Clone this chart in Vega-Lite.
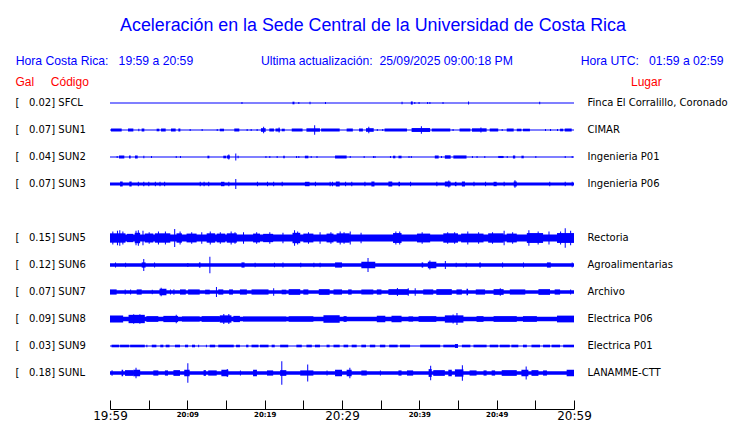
{
  "$schema": "https://vega.github.io/schema/vega-lite/v6.json",
  "width": 464,
  "height": 342,
  "autosize": {"type": "none"},
  "padding": {"left": 110, "top": 67, "right": 166, "bottom": 14},
  "background": "white",
  "config": {"view": {"stroke": null}, "font": "Liberation Sans"},
  "title": {
    "text": "Aceleración en la Sede Central de la Universidad de Costa Rica",
    "subtitle": "Hora Costa Rica:\u00a0\u00a0\u00a019:59 a 20:59\u00a0\u00a0\u00a0\u00a0\u00a0\u00a0\u00a0\u00a0\u00a0\u00a0\u00a0\u00a0\u00a0\u00a0\u00a0\u00a0\u00a0\u00a0\u00a0\u00a0Ultima actualización:\u00a0\u00a025/09/2025 09:00:18 PM\u00a0\u00a0\u00a0\u00a0\u00a0\u00a0\u00a0\u00a0\u00a0\u00a0\u00a0\u00a0\u00a0\u00a0\u00a0\u00a0\u00a0\u00a0\u00a0\u00a0Hora UTC:\u00a0\u00a0\u00a001:59 a 02:59\u00a0\u00a0\u200b",
    "anchor": "middle",
    "frame": "group",
    "dx": 31,
    "offset": -0.5,
    "font": "Liberation Sans",
    "fontSize": 17.85,
    "fontWeight": "normal",
    "color": "#0000ff",
    "subtitleFont": "Liberation Sans",
    "subtitleFontSize": 12.2,
    "subtitleColor": "#0000ff",
    "subtitlePadding": 20.5
  },
  "datasets": {
    "base": [
      {"s": "SFCL", "t0": 0, "t1": 60, "a": 0.04},
      {"s": "SUN1", "t0": 0, "t1": 60, "a": 0.045},
      {"s": "SUN2", "t0": 0, "t1": 60, "a": 0.04},
      {"s": "SUN3", "t0": 0, "t1": 60, "a": 0.115},
      {"s": "SUN5", "t0": 0, "t1": 60, "a": 0.27},
      {"s": "SUN6", "t0": 0, "t1": 60, "a": 0.13},
      {"s": "SUN7", "t0": 0, "t1": 60, "a": 0.13},
      {"s": "SUN8", "t0": 0, "t1": 60, "a": 0.165},
      {"s": "SUN9", "t0": 0, "t1": 60, "a": 0.04},
      {"s": "SUNL", "t0": 0, "t1": 60, "a": 0.13}
    ],
    "bursts": [
      {"s": "SFCL", "t0": 17.0, "t1": 17.13, "a": 0.08},
      {"s": "SFCL", "t0": 23.6, "t1": 23.85, "a": 0.1},
      {"s": "SFCL", "t0": 24.35, "t1": 24.48, "a": 0.08},
      {"s": "SFCL", "t0": 25.8, "t1": 25.93, "a": 0.09},
      {"s": "SFCL", "t0": 27.8, "t1": 27.93, "a": 0.08},
      {"s": "SFCL", "t0": 37.7, "t1": 37.83, "a": 0.09},
      {"s": "SFCL", "t0": 38.9, "t1": 39.15, "a": 0.12},
      {"s": "SFCL", "t0": 39.35, "t1": 39.48, "a": 0.08},
      {"s": "SFCL", "t0": 39.9, "t1": 40.03, "a": 0.08},
      {"s": "SFCL", "t0": 41.0, "t1": 41.13, "a": 0.08},
      {"s": "SFCL", "t0": 41.3, "t1": 41.43, "a": 0.08},
      {"s": "SFCL", "t0": 43.0, "t1": 43.13, "a": 0.08},
      {"s": "SFCL", "t0": 46.3, "t1": 46.43, "a": 0.12},
      {"s": "SFCL", "t0": 55.5, "t1": 55.63, "a": 0.09},

      {"s": "SUN1", "t0": 0.13, "t1": 1.51, "a": 0.115},
      {"s": "SUN1", "t0": 2.33, "t1": 3.02, "a": 0.115},
      {"s": "SUN1", "t0": 3.66, "t1": 3.79, "a": 0.1},
      {"s": "SUN1", "t0": 4.09, "t1": 4.44, "a": 0.115},
      {"s": "SUN1", "t0": 6.03, "t1": 6.38, "a": 0.1},
      {"s": "SUN1", "t0": 6.6, "t1": 7.2, "a": 0.115},
      {"s": "SUN1", "t0": 7.89, "t1": 8.49, "a": 0.115},
      {"s": "SUN1", "t0": 8.84, "t1": 9.1, "a": 0.115},
      {"s": "SUN1", "t0": 10.3, "t1": 10.43, "a": 0.08},
      {"s": "SUN1", "t0": 11.85, "t1": 11.98, "a": 0.08},
      {"s": "SUN1", "t0": 13.8, "t1": 13.93, "a": 0.08},
      {"s": "SUN1", "t0": 14.2, "t1": 14.74, "a": 0.1},
      {"s": "SUN1", "t0": 16.07, "t1": 16.72, "a": 0.115},
      {"s": "SUN1", "t0": 17.67, "t1": 17.8, "a": 0.08},
      {"s": "SUN1", "t0": 18.19, "t1": 18.32, "a": 0.08},
      {"s": "SUN1", "t0": 18.96, "t1": 19.09, "a": 0.08},
      {"s": "SUN1", "t0": 19.52, "t1": 20.13, "a": 0.14},
      {"s": "SUN1", "t0": 19.8, "t1": 19.93, "a": 0.25},
      {"s": "SUN1", "t0": 20.6, "t1": 21.2, "a": 0.115},
      {"s": "SUN1", "t0": 21.4, "t1": 22.0, "a": 0.115},
      {"s": "SUN1", "t0": 21.8, "t1": 21.93, "a": 0.2},
      {"s": "SUN1", "t0": 22.2, "t1": 22.6, "a": 0.1},
      {"s": "SUN1", "t0": 23.5, "t1": 24.9, "a": 0.115},
      {"s": "SUN1", "t0": 25.4, "t1": 27.15, "a": 0.13},
      {"s": "SUN1", "t0": 26.4, "t1": 26.53, "a": 0.36},
      {"s": "SUN1", "t0": 27.3, "t1": 29.7, "a": 0.115},
      {"s": "SUN1", "t0": 30.6, "t1": 31.4, "a": 0.115},
      {"s": "SUN1", "t0": 32.2, "t1": 32.7, "a": 0.115},
      {"s": "SUN1", "t0": 33.1, "t1": 34.1, "a": 0.14},
      {"s": "SUN1", "t0": 33.4, "t1": 33.53, "a": 0.25},
      {"s": "SUN1", "t0": 34.5, "t1": 34.63, "a": 0.08},
      {"s": "SUN1", "t0": 35.2, "t1": 35.33, "a": 0.08},
      {"s": "SUN1", "t0": 35.5, "t1": 38.4, "a": 0.115},
      {"s": "SUN1", "t0": 39.0, "t1": 41.4, "a": 0.15},
      {"s": "SUN1", "t0": 40.2, "t1": 40.33, "a": 0.28},
      {"s": "SUN1", "t0": 41.6, "t1": 44.0, "a": 0.115},
      {"s": "SUN1", "t0": 44.3, "t1": 44.43, "a": 0.08},
      {"s": "SUN1", "t0": 45.2, "t1": 46.6, "a": 0.115},
      {"s": "SUN1", "t0": 46.8, "t1": 48.7, "a": 0.13},
      {"s": "SUN1", "t0": 47.9, "t1": 48.03, "a": 0.2},
      {"s": "SUN1", "t0": 49.1, "t1": 50.2, "a": 0.115},
      {"s": "SUN1", "t0": 50.65, "t1": 50.78, "a": 0.08},
      {"s": "SUN1", "t0": 51.3, "t1": 52.2, "a": 0.115},
      {"s": "SUN1", "t0": 52.6, "t1": 53.2, "a": 0.1},
      {"s": "SUN1", "t0": 53.4, "t1": 54.3, "a": 0.1},
      {"s": "SUN1", "t0": 56.25, "t1": 56.38, "a": 0.08},
      {"s": "SUN1", "t0": 56.9, "t1": 57.03, "a": 0.08},
      {"s": "SUN1", "t0": 57.8, "t1": 57.93, "a": 0.08},
      {"s": "SUN1", "t0": 58.2, "t1": 58.6, "a": 0.1},
      {"s": "SUN1", "t0": 58.8, "t1": 59.7, "a": 0.115},

      {"s": "SUN2", "t0": 0.86, "t1": 0.99, "a": 0.08},
      {"s": "SUN2", "t0": 1.16, "t1": 1.85, "a": 0.115},
      {"s": "SUN2", "t0": 2.46, "t1": 2.67, "a": 0.115},
      {"s": "SUN2", "t0": 3.23, "t1": 3.58, "a": 0.115},
      {"s": "SUN2", "t0": 4.31, "t1": 4.44, "a": 0.1},
      {"s": "SUN2", "t0": 5.3, "t1": 5.43, "a": 0.08},
      {"s": "SUN2", "t0": 8.5, "t1": 8.63, "a": 0.08},
      {"s": "SUN2", "t0": 9.05, "t1": 9.18, "a": 0.08},
      {"s": "SUN2", "t0": 12.6, "t1": 12.85, "a": 0.1},
      {"s": "SUN2", "t0": 14.65, "t1": 15.0, "a": 0.1},
      {"s": "SUN2", "t0": 15.1, "t1": 15.5, "a": 0.12},
      {"s": "SUN2", "t0": 15.3, "t1": 15.43, "a": 0.2},
      {"s": "SUN2", "t0": 16.2, "t1": 16.33, "a": 0.26},
      {"s": "SUN2", "t0": 16.5, "t1": 16.63, "a": 0.1},
      {"s": "SUN2", "t0": 20.1, "t1": 20.23, "a": 0.08},
      {"s": "SUN2", "t0": 20.6, "t1": 20.73, "a": 0.08},
      {"s": "SUN2", "t0": 21.55, "t1": 21.68, "a": 0.08},
      {"s": "SUN2", "t0": 22.4, "t1": 22.6, "a": 0.1},
      {"s": "SUN2", "t0": 24.05, "t1": 24.18, "a": 0.08},
      {"s": "SUN2", "t0": 24.35, "t1": 24.48, "a": 0.08},
      {"s": "SUN2", "t0": 25.2, "t1": 25.65, "a": 0.1},
      {"s": "SUN2", "t0": 25.95, "t1": 26.08, "a": 0.08},
      {"s": "SUN2", "t0": 26.7, "t1": 26.83, "a": 0.08},
      {"s": "SUN2", "t0": 29.1, "t1": 30.6, "a": 0.115},
      {"s": "SUN2", "t0": 31.0, "t1": 31.13, "a": 0.08},
      {"s": "SUN2", "t0": 32.8, "t1": 32.93, "a": 0.08},
      {"s": "SUN2", "t0": 34.0, "t1": 34.13, "a": 0.08},
      {"s": "SUN2", "t0": 34.2, "t1": 34.33, "a": 0.08},
      {"s": "SUN2", "t0": 36.2, "t1": 36.33, "a": 0.08},
      {"s": "SUN2", "t0": 36.6, "t1": 36.9, "a": 0.1},
      {"s": "SUN2", "t0": 37.3, "t1": 37.7, "a": 0.1},
      {"s": "SUN2", "t0": 38.6, "t1": 38.73, "a": 0.08},
      {"s": "SUN2", "t0": 38.9, "t1": 39.03, "a": 0.08},
      {"s": "SUN2", "t0": 42.0, "t1": 42.5, "a": 0.115},
      {"s": "SUN2", "t0": 42.8, "t1": 42.93, "a": 0.08},
      {"s": "SUN2", "t0": 43.3, "t1": 44.05, "a": 0.13},
      {"s": "SUN2", "t0": 44.4, "t1": 46.1, "a": 0.12},
      {"s": "SUN2", "t0": 46.8, "t1": 46.93, "a": 0.08},
      {"s": "SUN2", "t0": 47.4, "t1": 47.53, "a": 0.08},
      {"s": "SUN2", "t0": 48.4, "t1": 48.53, "a": 0.08},
      {"s": "SUN2", "t0": 50.2, "t1": 50.9, "a": 0.08},
      {"s": "SUN2", "t0": 51.3, "t1": 51.43, "a": 0.08},
      {"s": "SUN2", "t0": 52.1, "t1": 52.4, "a": 0.115},
      {"s": "SUN2", "t0": 53.2, "t1": 53.5, "a": 0.1},
      {"s": "SUN2", "t0": 55.0, "t1": 55.13, "a": 0.08},
      {"s": "SUN2", "t0": 58.8, "t1": 58.93, "a": 0.08},
      {"s": "SUN2", "t0": 59.7, "t1": 59.83, "a": 0.08},

      {"s": "SUN3", "t0": 1.3, "t1": 1.64, "a": 0.19},
      {"s": "SUN3", "t0": 2.5, "t1": 2.8, "a": 0.19},
      {"s": "SUN3", "t0": 3.6, "t1": 3.73, "a": 0.17},
      {"s": "SUN3", "t0": 4.3, "t1": 4.44, "a": 0.17},
      {"s": "SUN3", "t0": 4.95, "t1": 5.08, "a": 0.17},
      {"s": "SUN3", "t0": 5.8, "t1": 5.93, "a": 0.17},
      {"s": "SUN3", "t0": 6.4, "t1": 6.53, "a": 0.17},
      {"s": "SUN3", "t0": 7.0, "t1": 7.13, "a": 0.17},
      {"s": "SUN3", "t0": 11.6, "t1": 11.73, "a": 0.17},
      {"s": "SUN3", "t0": 12.1, "t1": 12.23, "a": 0.17},
      {"s": "SUN3", "t0": 12.7, "t1": 12.83, "a": 0.17},
      {"s": "SUN3", "t0": 14.35, "t1": 14.8, "a": 0.17},
      {"s": "SUN3", "t0": 15.3, "t1": 15.43, "a": 0.17},
      {"s": "SUN3", "t0": 16.2, "t1": 16.33, "a": 0.38},
      {"s": "SUN3", "t0": 19.0, "t1": 19.13, "a": 0.17},
      {"s": "SUN3", "t0": 20.3, "t1": 20.43, "a": 0.17},
      {"s": "SUN3", "t0": 21.1, "t1": 21.23, "a": 0.17},
      {"s": "SUN3", "t0": 22.2, "t1": 22.33, "a": 0.17},
      {"s": "SUN3", "t0": 25.2, "t1": 25.8, "a": 0.17},
      {"s": "SUN3", "t0": 26.5, "t1": 26.63, "a": 0.17},
      {"s": "SUN3", "t0": 28.4, "t1": 28.53, "a": 0.17},
      {"s": "SUN3", "t0": 28.7, "t1": 28.83, "a": 0.17},
      {"s": "SUN3", "t0": 29.2, "t1": 29.7, "a": 0.19},
      {"s": "SUN3", "t0": 30.4, "t1": 30.53, "a": 0.17},
      {"s": "SUN3", "t0": 31.2, "t1": 31.33, "a": 0.17},
      {"s": "SUN3", "t0": 32.9, "t1": 33.03, "a": 0.17},
      {"s": "SUN3", "t0": 33.8, "t1": 34.2, "a": 0.19},
      {"s": "SUN3", "t0": 36.0, "t1": 36.5, "a": 0.19},
      {"s": "SUN3", "t0": 37.3, "t1": 37.5, "a": 0.17},
      {"s": "SUN3", "t0": 38.8, "t1": 38.93, "a": 0.17},
      {"s": "SUN3", "t0": 42.2, "t1": 42.33, "a": 0.17},
      {"s": "SUN3", "t0": 43.3, "t1": 44.05, "a": 0.19},
      {"s": "SUN3", "t0": 43.75, "t1": 43.88, "a": 0.26},
      {"s": "SUN3", "t0": 44.6, "t1": 44.8, "a": 0.17},
      {"s": "SUN3", "t0": 45.5, "t1": 45.9, "a": 0.19},
      {"s": "SUN3", "t0": 47.0, "t1": 47.13, "a": 0.17},
      {"s": "SUN3", "t0": 48.5, "t1": 48.63, "a": 0.17},
      {"s": "SUN3", "t0": 49.6, "t1": 50.0, "a": 0.17},
      {"s": "SUN3", "t0": 50.9, "t1": 51.03, "a": 0.17},
      {"s": "SUN3", "t0": 52.2, "t1": 52.6, "a": 0.19},
      {"s": "SUN3", "t0": 52.3, "t1": 52.43, "a": 0.28},
      {"s": "SUN3", "t0": 56.8, "t1": 56.93, "a": 0.17},
      {"s": "SUN3", "t0": 58.8, "t1": 58.93, "a": 0.17},
      {"s": "SUN3", "t0": 59.7, "t1": 59.83, "a": 0.17},

      {"s": "SUN5", "t0": 0, "t1": 2.0, "a": 0.36},
      {"s": "SUN5", "t0": 2.2, "t1": 3.0, "a": 0.32},
      {"s": "SUN5", "t0": 3.2, "t1": 3.9, "a": 0.4},
      {"s": "SUN5", "t0": 4.5, "t1": 5.6, "a": 0.34},
      {"s": "SUN5", "t0": 5.8, "t1": 7.8, "a": 0.36},
      {"s": "SUN5", "t0": 8.6, "t1": 9.3, "a": 0.36},
      {"s": "SUN5", "t0": 9.9, "t1": 11.2, "a": 0.34},
      {"s": "SUN5", "t0": 12.5, "t1": 13.6, "a": 0.36},
      {"s": "SUN5", "t0": 13.8, "t1": 14.9, "a": 0.34},
      {"s": "SUN5", "t0": 15.1, "t1": 16.4, "a": 0.36},
      {"s": "SUN5", "t0": 18.5, "t1": 19.4, "a": 0.34},
      {"s": "SUN5", "t0": 19.8, "t1": 21.1, "a": 0.32},
      {"s": "SUN5", "t0": 23.6, "t1": 24.6, "a": 0.4},
      {"s": "SUN5", "t0": 25.0, "t1": 26.3, "a": 0.34},
      {"s": "SUN5", "t0": 28.0, "t1": 28.9, "a": 0.34},
      {"s": "SUN5", "t0": 29.3, "t1": 31.0, "a": 0.36},
      {"s": "SUN5", "t0": 36.6, "t1": 37.7, "a": 0.38},
      {"s": "SUN5", "t0": 39.7, "t1": 41.4, "a": 0.34},
      {"s": "SUN5", "t0": 43.1, "t1": 45.0, "a": 0.36},
      {"s": "SUN5", "t0": 45.4, "t1": 48.3, "a": 0.34},
      {"s": "SUN5", "t0": 48.9, "t1": 50.9, "a": 0.36},
      {"s": "SUN5", "t0": 51.3, "t1": 52.6, "a": 0.34},
      {"s": "SUN5", "t0": 53.9, "t1": 56.0, "a": 0.38},
      {"s": "SUN5", "t0": 57.8, "t1": 60, "a": 0.38},
      {"s": "SUN5", "t0": 0.3, "t1": 0.43, "a": 0.5},
      {"s": "SUN5", "t0": 0.9, "t1": 1.03, "a": 0.55},
      {"s": "SUN5", "t0": 1.2, "t1": 1.33, "a": 0.6},
      {"s": "SUN5", "t0": 1.6, "t1": 1.73, "a": 0.5},
      {"s": "SUN5", "t0": 3.3, "t1": 3.43, "a": 0.55},
      {"s": "SUN5", "t0": 3.6, "t1": 3.73, "a": 0.6},
      {"s": "SUN5", "t0": 4.2, "t1": 4.33, "a": 0.55},
      {"s": "SUN5", "t0": 5.0, "t1": 5.13, "a": 0.45},
      {"s": "SUN5", "t0": 6.2, "t1": 6.33, "a": 0.5},
      {"s": "SUN5", "t0": 7.1, "t1": 7.23, "a": 0.5},
      {"s": "SUN5", "t0": 8.3, "t1": 8.43, "a": 0.7},
      {"s": "SUN5", "t0": 9.0, "t1": 9.13, "a": 0.5},
      {"s": "SUN5", "t0": 10.5, "t1": 10.63, "a": 0.45},
      {"s": "SUN5", "t0": 11.8, "t1": 11.93, "a": 0.45},
      {"s": "SUN5", "t0": 12.9, "t1": 13.03, "a": 0.5},
      {"s": "SUN5", "t0": 14.2, "t1": 14.33, "a": 0.45},
      {"s": "SUN5", "t0": 15.6, "t1": 15.73, "a": 0.5},
      {"s": "SUN5", "t0": 16.1, "t1": 16.23, "a": 0.45},
      {"s": "SUN5", "t0": 17.2, "t1": 17.33, "a": 0.45},
      {"s": "SUN5", "t0": 18.9, "t1": 19.03, "a": 0.45},
      {"s": "SUN5", "t0": 20.6, "t1": 20.73, "a": 0.45},
      {"s": "SUN5", "t0": 22.3, "t1": 22.43, "a": 0.4},
      {"s": "SUN5", "t0": 23.8, "t1": 23.93, "a": 0.6},
      {"s": "SUN5", "t0": 24.2, "t1": 24.33, "a": 0.5},
      {"s": "SUN5", "t0": 25.6, "t1": 25.73, "a": 0.45},
      {"s": "SUN5", "t0": 27.1, "t1": 27.23, "a": 0.45},
      {"s": "SUN5", "t0": 28.5, "t1": 28.63, "a": 0.45},
      {"s": "SUN5", "t0": 29.7, "t1": 29.83, "a": 0.5},
      {"s": "SUN5", "t0": 30.2, "t1": 30.33, "a": 0.45},
      {"s": "SUN5", "t0": 31.0, "t1": 31.13, "a": 0.5},
      {"s": "SUN5", "t0": 32.4, "t1": 32.53, "a": 0.4},
      {"s": "SUN5", "t0": 36.9, "t1": 37.03, "a": 0.5},
      {"s": "SUN5", "t0": 37.4, "t1": 37.53, "a": 0.5},
      {"s": "SUN5", "t0": 40.3, "t1": 40.43, "a": 0.45},
      {"s": "SUN5", "t0": 43.6, "t1": 43.73, "a": 0.45},
      {"s": "SUN5", "t0": 44.5, "t1": 44.63, "a": 0.45},
      {"s": "SUN5", "t0": 46.2, "t1": 46.33, "a": 0.5},
      {"s": "SUN5", "t0": 47.6, "t1": 47.73, "a": 0.45},
      {"s": "SUN5", "t0": 49.4, "t1": 49.53, "a": 0.45},
      {"s": "SUN5", "t0": 50.9, "t1": 51.03, "a": 0.55},
      {"s": "SUN5", "t0": 52.0, "t1": 52.13, "a": 0.45},
      {"s": "SUN5", "t0": 54.1, "t1": 54.23, "a": 0.6},
      {"s": "SUN5", "t0": 55.3, "t1": 55.43, "a": 0.5},
      {"s": "SUN5", "t0": 56.7, "t1": 56.83, "a": 0.5},
      {"s": "SUN5", "t0": 58.2, "t1": 58.33, "a": 0.5},
      {"s": "SUN5", "t0": 58.8, "t1": 58.93, "a": 0.75},
      {"s": "SUN5", "t0": 59.5, "t1": 59.63, "a": 0.55},

      {"s": "SUN6", "t0": 0.65, "t1": 0.78, "a": 0.2},
      {"s": "SUN6", "t0": 1.95, "t1": 2.08, "a": 0.18},
      {"s": "SUN6", "t0": 4.1, "t1": 4.6, "a": 0.2},
      {"s": "SUN6", "t0": 4.3, "t1": 4.43, "a": 0.46},
      {"s": "SUN6", "t0": 5.7, "t1": 5.83, "a": 0.2},
      {"s": "SUN6", "t0": 10.0, "t1": 10.13, "a": 0.15},
      {"s": "SUN6", "t0": 11.5, "t1": 11.7, "a": 0.2},
      {"s": "SUN6", "t0": 12.85, "t1": 12.98, "a": 0.63},
      {"s": "SUN6", "t0": 17.0, "t1": 17.4, "a": 0.2},
      {"s": "SUN6", "t0": 18.7, "t1": 18.83, "a": 0.18},
      {"s": "SUN6", "t0": 21.2, "t1": 21.33, "a": 0.18},
      {"s": "SUN6", "t0": 22.3, "t1": 22.43, "a": 0.2},
      {"s": "SUN6", "t0": 24.6, "t1": 24.73, "a": 0.18},
      {"s": "SUN6", "t0": 26.3, "t1": 26.43, "a": 0.18},
      {"s": "SUN6", "t0": 27.1, "t1": 27.23, "a": 0.18},
      {"s": "SUN6", "t0": 29.1, "t1": 30.0, "a": 0.2},
      {"s": "SUN6", "t0": 32.5, "t1": 34.3, "a": 0.25},
      {"s": "SUN6", "t0": 33.3, "t1": 33.43, "a": 0.54},
      {"s": "SUN6", "t0": 40.3, "t1": 40.5, "a": 0.2},
      {"s": "SUN6", "t0": 41.1, "t1": 42.2, "a": 0.25},
      {"s": "SUN6", "t0": 41.3, "t1": 41.43, "a": 0.35},
      {"s": "SUN6", "t0": 43.3, "t1": 43.43, "a": 0.3},
      {"s": "SUN6", "t0": 44.7, "t1": 44.83, "a": 0.18},
      {"s": "SUN6", "t0": 46.0, "t1": 46.13, "a": 0.18},
      {"s": "SUN6", "t0": 47.75, "t1": 47.95, "a": 0.2},
      {"s": "SUN6", "t0": 50.7, "t1": 50.83, "a": 0.2},
      {"s": "SUN6", "t0": 53.4, "t1": 53.53, "a": 0.2},
      {"s": "SUN6", "t0": 56.5, "t1": 57.0, "a": 0.2},
      {"s": "SUN6", "t0": 59.7, "t1": 59.83, "a": 0.2},

      {"s": "SUN7", "t0": 0, "t1": 0.86, "a": 0.2},
      {"s": "SUN7", "t0": 1.9, "t1": 2.03, "a": 0.2},
      {"s": "SUN7", "t0": 2.6, "t1": 2.73, "a": 0.2},
      {"s": "SUN7", "t0": 3.45, "t1": 4.1, "a": 0.2},
      {"s": "SUN7", "t0": 5.4, "t1": 5.53, "a": 0.18},
      {"s": "SUN7", "t0": 6.4, "t1": 7.3, "a": 0.25},
      {"s": "SUN7", "t0": 6.55, "t1": 6.68, "a": 0.32},
      {"s": "SUN7", "t0": 7.75, "t1": 7.88, "a": 0.2},
      {"s": "SUN7", "t0": 8.2, "t1": 8.33, "a": 0.22},
      {"s": "SUN7", "t0": 9.05, "t1": 9.8, "a": 0.2},
      {"s": "SUN7", "t0": 10.1, "t1": 11.6, "a": 0.2},
      {"s": "SUN7", "t0": 12.3, "t1": 12.9, "a": 0.18},
      {"s": "SUN7", "t0": 13.7, "t1": 13.83, "a": 0.38},
      {"s": "SUN7", "t0": 14.0, "t1": 14.65, "a": 0.2},
      {"s": "SUN7", "t0": 15.4, "t1": 15.9, "a": 0.2},
      {"s": "SUN7", "t0": 16.8, "t1": 17.7, "a": 0.2},
      {"s": "SUN7", "t0": 18.3, "t1": 20.5, "a": 0.2},
      {"s": "SUN7", "t0": 21.1, "t1": 21.23, "a": 0.28},
      {"s": "SUN7", "t0": 22.2, "t1": 22.8, "a": 0.18},
      {"s": "SUN7", "t0": 23.1, "t1": 24.6, "a": 0.22},
      {"s": "SUN7", "t0": 25.0, "t1": 25.65, "a": 0.2},
      {"s": "SUN7", "t0": 27.0, "t1": 28.4, "a": 0.22},
      {"s": "SUN7", "t0": 28.9, "t1": 30.0, "a": 0.2},
      {"s": "SUN7", "t0": 30.8, "t1": 31.25, "a": 0.2},
      {"s": "SUN7", "t0": 32.5, "t1": 34.05, "a": 0.2},
      {"s": "SUN7", "t0": 34.5, "t1": 35.1, "a": 0.2},
      {"s": "SUN7", "t0": 36.0, "t1": 38.6, "a": 0.22},
      {"s": "SUN7", "t0": 37.1, "t1": 37.23, "a": 0.3},
      {"s": "SUN7", "t0": 38.5, "t1": 38.63, "a": 0.28},
      {"s": "SUN7", "t0": 39.4, "t1": 39.53, "a": 0.28},
      {"s": "SUN7", "t0": 40.5, "t1": 41.8, "a": 0.2},
      {"s": "SUN7", "t0": 42.2, "t1": 44.2, "a": 0.22},
      {"s": "SUN7", "t0": 44.8, "t1": 45.5, "a": 0.2},
      {"s": "SUN7", "t0": 46.1, "t1": 46.3, "a": 0.25},
      {"s": "SUN7", "t0": 47.3, "t1": 48.5, "a": 0.2},
      {"s": "SUN7", "t0": 49.6, "t1": 50.9, "a": 0.22},
      {"s": "SUN7", "t0": 50.4, "t1": 50.53, "a": 0.28},
      {"s": "SUN7", "t0": 51.7, "t1": 53.7, "a": 0.2},
      {"s": "SUN7", "t0": 55.4, "t1": 56.9, "a": 0.22},
      {"s": "SUN7", "t0": 57.5, "t1": 58.2, "a": 0.2},
      {"s": "SUN7", "t0": 59.5, "t1": 59.63, "a": 0.2},

      {"s": "SUN8", "t0": 0, "t1": 1.7, "a": 0.27},
      {"s": "SUN8", "t0": 2.4, "t1": 4.5, "a": 0.32},
      {"s": "SUN8", "t0": 3.0, "t1": 3.13, "a": 0.36},
      {"s": "SUN8", "t0": 3.8, "t1": 3.93, "a": 0.36},
      {"s": "SUN8", "t0": 4.7, "t1": 6.25, "a": 0.22},
      {"s": "SUN8", "t0": 6.9, "t1": 8.8, "a": 0.24},
      {"s": "SUN8", "t0": 8.5, "t1": 8.63, "a": 0.32},
      {"s": "SUN8", "t0": 9.3, "t1": 11.6, "a": 0.2},
      {"s": "SUN8", "t0": 11.85, "t1": 14.2, "a": 0.22},
      {"s": "SUN8", "t0": 14.2, "t1": 15.7, "a": 0.28},
      {"s": "SUN8", "t0": 14.65, "t1": 14.78, "a": 0.38},
      {"s": "SUN8", "t0": 15.3, "t1": 15.43, "a": 0.38},
      {"s": "SUN8", "t0": 15.95, "t1": 16.8, "a": 0.24},
      {"s": "SUN8", "t0": 17.2, "t1": 22.8, "a": 0.2},
      {"s": "SUN8", "t0": 23.1, "t1": 26.3, "a": 0.22},
      {"s": "SUN8", "t0": 27.6, "t1": 29.7, "a": 0.29},
      {"s": "SUN8", "t0": 30.2, "t1": 30.6, "a": 0.22},
      {"s": "SUN8", "t0": 34.5, "t1": 35.6, "a": 0.25},
      {"s": "SUN8", "t0": 36.4, "t1": 37.7, "a": 0.25},
      {"s": "SUN8", "t0": 38.6, "t1": 39.2, "a": 0.2},
      {"s": "SUN8", "t0": 39.9, "t1": 42.2, "a": 0.22},
      {"s": "SUN8", "t0": 43.3, "t1": 45.7, "a": 0.28},
      {"s": "SUN8", "t0": 44.3, "t1": 44.43, "a": 0.35},
      {"s": "SUN8", "t0": 44.8, "t1": 44.93, "a": 0.47},
      {"s": "SUN8", "t0": 47.4, "t1": 48.3, "a": 0.22},
      {"s": "SUN8", "t0": 49.6, "t1": 52.6, "a": 0.22},
      {"s": "SUN8", "t0": 53.4, "t1": 55.2, "a": 0.22},
      {"s": "SUN8", "t0": 57.8, "t1": 60, "a": 0.26},

      {"s": "SUN9", "t0": 0.2, "t1": 1.2, "a": 0.1},
      {"s": "SUN9", "t0": 1.3, "t1": 2.5, "a": 0.1},
      {"s": "SUN9", "t0": 2.6, "t1": 4.5, "a": 0.1},
      {"s": "SUN9", "t0": 4.7, "t1": 4.83, "a": 0.1},
      {"s": "SUN9", "t0": 5.4, "t1": 6.0, "a": 0.1},
      {"s": "SUN9", "t0": 6.5, "t1": 6.9, "a": 0.1},
      {"s": "SUN9", "t0": 7.2, "t1": 7.7, "a": 0.1},
      {"s": "SUN9", "t0": 8.4, "t1": 9.05, "a": 0.1},
      {"s": "SUN9", "t0": 9.7, "t1": 10.1, "a": 0.1},
      {"s": "SUN9", "t0": 10.6, "t1": 11.0, "a": 0.1},
      {"s": "SUN9", "t0": 11.4, "t1": 11.53, "a": 0.1},
      {"s": "SUN9", "t0": 12.4, "t1": 12.53, "a": 0.1},
      {"s": "SUN9", "t0": 12.9, "t1": 13.6, "a": 0.1},
      {"s": "SUN9", "t0": 14.0, "t1": 16.0, "a": 0.1},
      {"s": "SUN9", "t0": 16.3, "t1": 16.8, "a": 0.1},
      {"s": "SUN9", "t0": 17.6, "t1": 17.9, "a": 0.1},
      {"s": "SUN9", "t0": 18.3, "t1": 19.2, "a": 0.1},
      {"s": "SUN9", "t0": 19.4, "t1": 20.5, "a": 0.1},
      {"s": "SUN9", "t0": 20.9, "t1": 21.3, "a": 0.1},
      {"s": "SUN9", "t0": 22.0, "t1": 23.05, "a": 0.1},
      {"s": "SUN9", "t0": 24.1, "t1": 24.8, "a": 0.1},
      {"s": "SUN9", "t0": 25.4, "t1": 26.1, "a": 0.1},
      {"s": "SUN9", "t0": 26.5, "t1": 27.15, "a": 0.1},
      {"s": "SUN9", "t0": 28.0, "t1": 28.4, "a": 0.1},
      {"s": "SUN9", "t0": 28.9, "t1": 29.7, "a": 0.1},
      {"s": "SUN9", "t0": 30.2, "t1": 30.8, "a": 0.1},
      {"s": "SUN9", "t0": 31.25, "t1": 31.9, "a": 0.1},
      {"s": "SUN9", "t0": 32.5, "t1": 33.1, "a": 0.1},
      {"s": "SUN9", "t0": 33.6, "t1": 34.3, "a": 0.1},
      {"s": "SUN9", "t0": 34.9, "t1": 35.6, "a": 0.1},
      {"s": "SUN9", "t0": 36.1, "t1": 37.2, "a": 0.1},
      {"s": "SUN9", "t0": 37.5, "t1": 38.8, "a": 0.1},
      {"s": "SUN9", "t0": 40.1, "t1": 42.7, "a": 0.1},
      {"s": "SUN9", "t0": 43.1, "t1": 44.6, "a": 0.1},
      {"s": "SUN9", "t0": 44.6, "t1": 45.0, "a": 0.15},
      {"s": "SUN9", "t0": 45.5, "t1": 46.6, "a": 0.1},
      {"s": "SUN9", "t0": 47.0, "t1": 48.7, "a": 0.1},
      {"s": "SUN9", "t0": 49.1, "t1": 50.2, "a": 0.1},
      {"s": "SUN9", "t0": 50.4, "t1": 51.7, "a": 0.1},
      {"s": "SUN9", "t0": 51.9, "t1": 52.8, "a": 0.1},
      {"s": "SUN9", "t0": 53.4, "t1": 53.9, "a": 0.1},
      {"s": "SUN9", "t0": 54.5, "t1": 55.6, "a": 0.1},
      {"s": "SUN9", "t0": 56.0, "t1": 56.9, "a": 0.1},
      {"s": "SUN9", "t0": 57.1, "t1": 58.2, "a": 0.1},
      {"s": "SUN9", "t0": 58.6, "t1": 60, "a": 0.1},

      {"s": "SUNL", "t0": 0.2, "t1": 0.33, "a": 0.22},
      {"s": "SUNL", "t0": 1.5, "t1": 1.7, "a": 0.25},
      {"s": "SUNL", "t0": 1.94, "t1": 3.0, "a": 0.22},
      {"s": "SUNL", "t0": 3.0, "t1": 3.9, "a": 0.25},
      {"s": "SUNL", "t0": 3.3, "t1": 3.43, "a": 0.4},
      {"s": "SUNL", "t0": 5.6, "t1": 6.25, "a": 0.2},
      {"s": "SUNL", "t0": 7.1, "t1": 7.5, "a": 0.2},
      {"s": "SUNL", "t0": 8.2, "t1": 9.05, "a": 0.22},
      {"s": "SUNL", "t0": 9.6, "t1": 10.3, "a": 0.25},
      {"s": "SUNL", "t0": 10.0, "t1": 10.13, "a": 0.75},
      {"s": "SUNL", "t0": 12.1, "t1": 12.4, "a": 0.22},
      {"s": "SUNL", "t0": 12.7, "t1": 13.8, "a": 0.2},
      {"s": "SUNL", "t0": 14.4, "t1": 15.3, "a": 0.25},
      {"s": "SUNL", "t0": 15.1, "t1": 15.23, "a": 0.3},
      {"s": "SUNL", "t0": 16.8, "t1": 16.93, "a": 0.2},
      {"s": "SUNL", "t0": 18.5, "t1": 19.0, "a": 0.25},
      {"s": "SUNL", "t0": 20.3, "t1": 21.1, "a": 0.2},
      {"s": "SUNL", "t0": 22.0, "t1": 22.8, "a": 0.22},
      {"s": "SUNL", "t0": 22.15, "t1": 22.28, "a": 0.9},
      {"s": "SUNL", "t0": 24.6, "t1": 26.3, "a": 0.2},
      {"s": "SUNL", "t0": 25.5, "t1": 25.63, "a": 0.65},
      {"s": "SUNL", "t0": 28.0, "t1": 28.13, "a": 0.2},
      {"s": "SUNL", "t0": 29.1, "t1": 30.0, "a": 0.25},
      {"s": "SUNL", "t0": 30.6, "t1": 31.25, "a": 0.25},
      {"s": "SUNL", "t0": 30.95, "t1": 31.08, "a": 0.4},
      {"s": "SUNL", "t0": 32.5, "t1": 33.2, "a": 0.2},
      {"s": "SUNL", "t0": 34.9, "t1": 35.03, "a": 0.2},
      {"s": "SUNL", "t0": 37.3, "t1": 37.7, "a": 0.2},
      {"s": "SUNL", "t0": 38.4, "t1": 39.2, "a": 0.2},
      {"s": "SUNL", "t0": 41.2, "t1": 41.6, "a": 0.3},
      {"s": "SUNL", "t0": 41.4, "t1": 41.53, "a": 0.56},
      {"s": "SUNL", "t0": 41.8, "t1": 43.3, "a": 0.22},
      {"s": "SUNL", "t0": 43.75, "t1": 44.2, "a": 0.25},
      {"s": "SUNL", "t0": 44.6, "t1": 45.7, "a": 0.28},
      {"s": "SUNL", "t0": 45.5, "t1": 45.63, "a": 0.6},
      {"s": "SUNL", "t0": 46.5, "t1": 47.4, "a": 0.2},
      {"s": "SUNL", "t0": 48.3, "t1": 48.7, "a": 0.2},
      {"s": "SUNL", "t0": 49.35, "t1": 49.8, "a": 0.2},
      {"s": "SUNL", "t0": 50.65, "t1": 52.6, "a": 0.22},
      {"s": "SUNL", "t0": 53.2, "t1": 54.1, "a": 0.25},
      {"s": "SUNL", "t0": 53.75, "t1": 53.88, "a": 0.5},
      {"s": "SUNL", "t0": 54.5, "t1": 55.4, "a": 0.22},
      {"s": "SUNL", "t0": 56.0, "t1": 56.5, "a": 0.2},
      {"s": "SUNL", "t0": 59.05, "t1": 60, "a": 0.25}
    ]
  },
  "encoding": {
    "x": {
      "field": "t0",
      "type": "quantitative",
      "scale": {"domain": [0, 60], "nice": false, "zero": false},
      "axis": {
        "values": [0, 5, 10, 15, 20, 25, 30, 35, 40, 45, 50, 55, 60],
        "title": null,
        "grid": false,
        "domain": true,
        "domainColor": "black",
        "domainWidth": 1,
        "tickColor": "black",
        "tickWidth": 1,
        "tickSize": -9,
        "labelColor": "black",
        "labelFont": "DejaVu Sans",
        "labelFontSize": {"condition": {"test": "datum.value % 30 === 0", "value": 12}, "value": 7},
        "labelFontWeight": {"condition": {"test": "datum.value % 30 === 0", "value": "normal"}, "value": "bold"},
        "labelExpr": "datum.value % 10 ? '' : ['19:59','20:09','20:19','20:29','20:39','20:49','20:59'][datum.value / 10]",
        "labelBaseline": "top",
        "labelPadding": 10.5,
        "labelFlush": false,
        "labelOverlap": false
      }
    },
    "x2": {"field": "t1"},
    "size": {
      "field": "a",
      "type": "quantitative",
      "scale": {"domain": [0, 1], "range": [0, 26], "zero": true},
      "legend": null
    },
    "color": {"value": "#0000ff"}
  },
  "layer": [
    {
      "data": {"name": "base"},
      "mark": {"type": "bar"},
      "encoding": {
        "y": {
          "field": "s",
          "type": "nominal",
          "scale": {"type": "band", "domain": ["SFCL", "SUN1", "SUN2", "SUN3", "SUN4", "SUN5", "SUN6", "SUN7", "SUN8", "SUN9", "SUNL"], "paddingInner": 0, "paddingOuter": 0.8333},
          "axis": {
            "orient": "left",
            "ticks": false,
            "domain": false,
            "labelAlign": "left",
            "labelBaseline": "middle",
            "labelPadding": 95,
            "labelFont": "DejaVu Sans",
            "labelFontSize": 10,
            "labelColor": "black",
            "labelLimit": 0,
            "labelExpr": "['[\u00a0\u00a0\u00a00.02] SFCL','[\u00a0\u00a0\u00a00.07] SUN1','[\u00a0\u00a0\u00a00.04] SUN2','[\u00a0\u00a0\u00a00.07] SUN3','','[\u00a0\u00a0\u00a00.15] SUN5','[\u00a0\u00a0\u00a00.12] SUN6','[\u00a0\u00a0\u00a00.07] SUN7','[\u00a0\u00a0\u00a00.09] SUN8','[\u00a0\u00a0\u00a00.03] SUN9','[\u00a0\u00a0\u00a00.18] SUNL'][indexof(['SFCL','SUN1','SUN2','SUN3','SUN4','SUN5','SUN6','SUN7','SUN8','SUN9','SUNL'], datum.value)]",
            "title": "Gal\u00a0\u00a0\u00a0\u00a0\u00a0Código",
            "titleAngle": 0,
            "titleAlign": "left",
            "titleBaseline": "middle",
            "titleX": -95,
            "titleY": 14,
            "titleColor": "#ff0000",
            "titleFont": "Liberation Sans",
            "titleFontSize": 12,
            "titleFontWeight": "normal"
          }
        }
      }
    },
    {
      "data": {"name": "bursts"},
      "mark": {"type": "bar"},
      "encoding": {
        "y": {
          "field": "s",
          "type": "nominal",
          "scale": {"type": "band", "domain": ["SFCL", "SUN1", "SUN2", "SUN3", "SUN4", "SUN5", "SUN6", "SUN7", "SUN8", "SUN9", "SUNL"], "paddingInner": 0, "paddingOuter": 0.8333},
          "axis": {
            "orient": "right",
            "ticks": false,
            "domain": false,
            "labelAlign": "left",
            "labelBaseline": "middle",
            "labelPadding": 13,
            "labelFont": "DejaVu Sans",
            "labelFontSize": 10,
            "labelColor": "black",
            "labelLimit": 0,
            "labelExpr": "['Finca El Corralillo, Coronado','CIMAR','Ingenieria P01','Ingenieria P06','','Rectoria','Agroalimentarias','Archivo','Electrica P06','Electrica P01','LANAMME-CTT'][indexof(['SFCL','SUN1','SUN2','SUN3','SUN4','SUN5','SUN6','SUN7','SUN8','SUN9','SUNL'], datum.value)]",
            "title": "Lugar",
            "titleAngle": 0,
            "titleAlign": "left",
            "titleBaseline": "middle",
            "titleX": 56.5,
            "titleY": 14,
            "titleColor": "#ff0000",
            "titleFont": "Liberation Sans",
            "titleFontSize": 12,
            "titleFontWeight": "normal"
          }
        }
      }
    }
  ],
  "resolve": {"axis": {"y": "independent"}}
}
